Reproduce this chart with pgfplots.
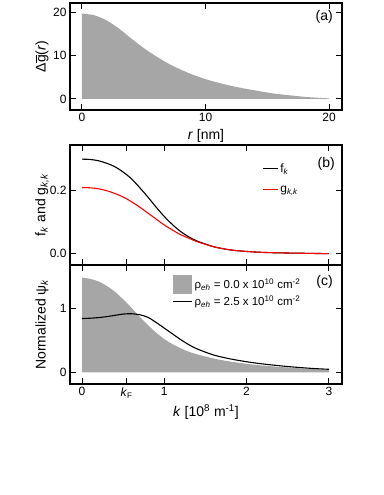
\documentclass[border=0pt]{standalone}
\usepackage{fontspec}
\setmainfont{Liberation Sans}
\usepackage{pgfplots}
\pgfplotsset{compat=1.18}

\definecolor{fillgray}{HTML}{A6A6A6}

\pgfplotsset{
  panel/.style={
    scale only axis, width=272pt, axis on top,
    tick align=inside, major tick length=6pt,
    axis line style={line width=1.2pt},
    every tick/.style={line width=1pt, black},
    tick label style={font=\fontsize{12}{14}\selectfont},
    xlabel style={font=\fontsize{14}{16}\selectfont},
    ylabel style={font=\fontsize{14}{16}\selectfont,
      at={(axis description cs:-0.103,0.5)}, anchor=center},
    /pgf/number format/assume math mode=true,
  },
  kaxis/.style={
    xmin=-0.146, xmax=3.16,
    xtick={0,0.543,1,2,3},
  },
  lineleg/.style={legend image code/.code={\draw[##1] (0pt,0pt) -- (15pt,0pt);}},
  longleg/.style={legend image code/.code={\draw[##1] (0pt,0pt) -- (19pt,0pt);}},
  squareleg/.style={legend image code/.code={\fill[fillgray] (0pt,-9.5pt) rectangle (19pt,9.5pt);}},
}

\pgfplotstableread{
r g
0 19.8
1 19.4
2 18.2
3 16.3
4 14.0
5 11.8
6 9.9
7 8.2
8 6.8
9 5.6
10 4.6
11 3.8
12 3.1
13 2.5
14 2.0
15 1.5
16 1.1
17 0.8
18 0.5
19 0.3
20 0.15
}\dgtable

\pgfplotstableread{
k f g
0 0.300 0.210
0.1 0.299 0.209
0.2 0.295 0.206
0.3 0.287 0.200
0.4 0.276 0.191
0.5 0.259 0.180
0.6 0.238 0.165
0.7 0.210 0.148
0.8 0.180 0.129
0.9 0.148 0.110
1.0 0.118 0.091
1.1 0.092 0.075
1.2 0.070 0.060
1.3 0.053 0.049
1.4 0.040 0.038
1.6 0.022 0.022
1.8 0.012 0.012
2.0 0.007 0.007
2.2 0.004 0.004
2.5 0.002 0.002
3.0 0.000 0.000
}\fgtable

\pgfplotstableread{
k zero dens
0 1.48 0.84
0.1 1.46 0.845
0.2 1.42 0.855
0.3 1.35 0.87
0.4 1.26 0.89
0.5 1.14 0.91
0.6 1.01 0.915
0.7 0.87 0.90
0.8 0.74 0.86
0.9 0.62 0.78
1.0 0.52 0.69
1.1 0.44 0.60
1.2 0.375 0.51
1.3 0.32 0.43
1.4 0.28 0.365
1.6 0.215 0.27
1.8 0.168 0.21
2.0 0.132 0.165
2.2 0.105 0.13
2.5 0.075 0.09
2.8 0.05 0.06
3.0 0.04 0.047
}\psitable

\begin{document}
\begin{tikzpicture}
\useasboundingbox (0pt,0pt) rectangle (383pt,495pt);

% (a)
\begin{axis}[panel, at={(70pt,385pt)}, anchor=south west, height=107pt,
  xmin=-0.97, xmax=21.05, ymin=-2.55, ymax=22.25,
  xtick={0,10,20}, ytick={0,10,20},
  xlabel={\textit{r} [nm]},
  ylabel={Δ\(\overline{\mbox{g}}\)(\textit{r})},
]
\addplot[fill=fillgray, draw=none, smooth] table[x=r, y=g] {\dgtable} \closedcycle;
\node[anchor=north east, inner sep=0pt, font=\fontsize{14}{16}\selectfont]
  at (rel axis cs:0.967,0.935) {(a)};
\end{axis}

% (b)
\begin{axis}[panel, kaxis, at={(70pt,230pt)}, anchor=south west, height=120pt,
  ymin=-0.036, ymax=0.345,
  xticklabels={}, ytick={0,0.2}, yticklabels={0.0,0.2},
  ylabel={f\textsubscript{\textit{k}} and g\textsubscript{\textit{k,k}}},
  legend style={at={(rel axis cs:0.695,0.88)}, anchor=north west, draw=none,
    fill=none, font=\fontsize{12}{14}\selectfont, row sep=8pt},
  legend cell align=left,
]
\addplot[black, line width=1.1pt, smooth, lineleg] table[x=k, y=f] {\fgtable};
\addlegendentry{f\textsubscript{\textit{k}}}
\addplot[red, line width=1.1pt, smooth, lineleg] table[x=k, y=g] {\fgtable};
\addlegendentry{g\textsubscript{\textit{k,k}}}
\node[anchor=north east, inner sep=0pt, font=\fontsize{14}{16}\selectfont]
  at (rel axis cs:0.974,0.9) {(b)};
\end{axis}

% (c)
\begin{axis}[panel, kaxis, at={(70pt,111pt)}, anchor=south west, height=119pt,
  ymin=-0.183, ymax=1.677,
  xticklabels={0,\textit{k}\textsubscript{F},1,2,3},
  ytick={0,1}, yticklabels={0,1},
  xlabel={\textit{k} [10\textsuperscript{8} m\textsuperscript{-1}]},
  ylabel={Normalized ψ\textsubscript{\textit{k}}},
  legend style={at={(rel axis cs:0.365,0.935)}, anchor=north west, draw=none,
    fill=none, font=\fontsize{11.5}{13}\selectfont, row sep=0pt},
  legend cell align=left,
]
\addplot[fill=fillgray, draw=none, smooth, squareleg]
  table[x=k, y=zero] {\psitable} \closedcycle;
\addlegendentry{ρ\textsubscript{\textit{eh}} = 0.0 x 10\textsuperscript{10} cm\textsuperscript{-2}}
\addplot[black, line width=1.1pt, smooth, longleg]
  table[x=k, y=dens] {\psitable};
\addlegendentry{ρ\textsubscript{\textit{eh}} = 2.5 x 10\textsuperscript{10} cm\textsuperscript{-2}}
\node[anchor=north east, inner sep=0pt, font=\fontsize{14}{16}\selectfont]
  at (rel axis cs:0.967,0.916) {(c)};
\end{axis}
\end{tikzpicture}
\end{document}
